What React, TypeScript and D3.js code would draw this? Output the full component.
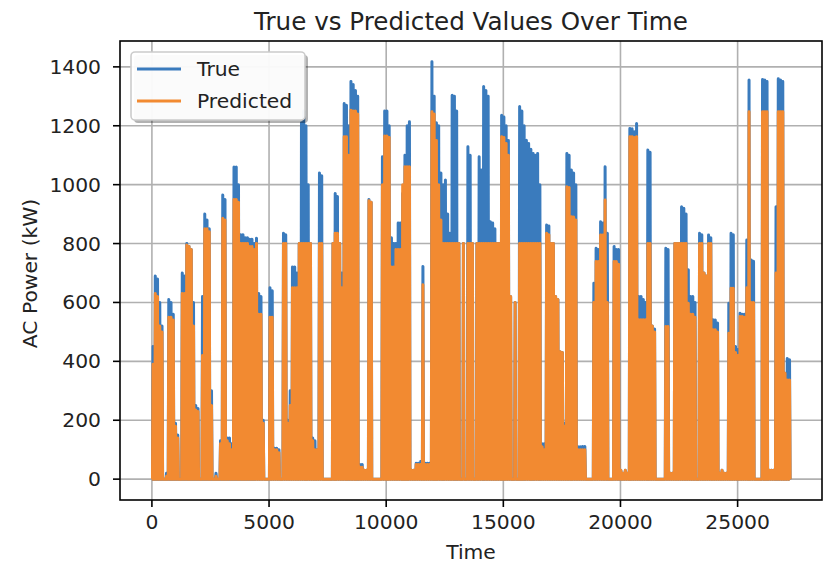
import React from "react";
import * as d3 from "d3";

// Daily peak AC power (kW), one entry per day (96 samples/day)
const truePeaks: number[] = [
  450, 690, 680, 600, 520, 0, 20, 610, 600, 560,
  190, 150, 0, 700, 690, 800, 790, 780, 600, 250,
  240, 0, 620, 900, 880, 850, 300, 0, 20, 0,
  130, 965, 950, 140, 140, 120, 1060, 1060, 1000, 830,
  830, 820, 820, 815, 815, 800, 818, 630, 620, 200,
  0, 0, 650, 640, 105, 105, 100, 0, 835, 830,
  200, 300, 720, 720, 700, 800, 1210, 1250, 1200, 1000,
  800, 140, 130, 100, 1040, 1030, 0, 0, 0, 0,
  800, 970, 960, 800, 700, 1276, 1270, 1200, 1350, 1340,
  1320, 1300, 50, 50, 30, 30, 950, 940, 0, 0,
  0, 0, 1095, 1250, 1250, 1200, 820, 800, 800, 870,
  870, 970, 1100, 1200, 1214, 30, 30, 54, 54, 60,
  722, 54, 54, 54, 1417, 1300, 1210, 1200, 1040, 1000,
  1016, 900, 835, 1304, 1300, 1250, 800, 0, 800, 0,
  1129, 1100, 800, 0, 800, 1095, 1050, 1333, 1320, 1300,
  874, 870, 850, 800, 800, 1236, 1230, 1200, 1150, 620,
  0, 600, 0, 1265, 1250, 1200, 1151, 1140, 1120, 1106,
  1100, 1106, 1000, 120, 120, 863, 860, 800, 800, 620,
  610, 433, 430, 190, 1106, 1100, 1050, 1040, 1000, 110,
  110, 111, 111, 0, 0, 0, 665, 784, 780, 874,
  870, 1061, 835, 0, 0, 790, 780, 780, 30, 20,
  30, 20, 1191, 1190, 1180, 1208, 620, 620, 610, 600,
  1118, 1110, 520, 510, 0, 0, 0, 0, 784, 780,
  20, 20, 800, 800, 800, 925, 920, 900, 711, 620,
  620, 600, 0, 835, 830, 700, 690, 829, 820, 541,
  540, 530, 20, 30, 20, 20, 597, 835, 830, 450,
  440, 563, 560, 560, 812, 1355, 744, 740, 0, 0,
  0, 1357, 1355, 1350, 30, 30, 30, 925, 1360, 1355,
  1350, 360, 410, 405,
];

const predPeaks: number[] = [
  390, 630, 620, 520, 500, 0, 10, 550, 550, 540,
  180, 140, 0, 630, 630, 795, 790, 780, 520, 235,
  230, 0, 420, 850, 850, 840, 250, 0, 10, 0,
  120, 886, 880, 130, 120, 100, 950, 950, 940, 800,
  800, 800, 800, 790, 790, 780, 800, 560, 560, 190,
  0, 0, 550, 550, 100, 100, 90, 0, 800, 800,
  190, 250, 650, 650, 650, 800, 800, 800, 800, 800,
  800, 130, 100, 100, 800, 800, 0, 0, 0, 0,
  800, 835, 835, 800, 650, 1163, 1163, 1100, 1253, 1250,
  1250, 1240, 40, 40, 30, 30, 945, 940, 0, 0,
  0, 0, 1000, 1165, 1165, 1160, 720, 720, 780, 780,
  780, 1000, 1061, 1061, 1061, 30, 30, 50, 50, 50,
  660, 50, 50, 50, 1248, 1240, 1150, 1000, 880, 800,
  800, 800, 800, 800, 800, 800, 800, 0, 800, 0,
  800, 800, 800, 0, 800, 800, 800, 800, 800, 800,
  800, 800, 800, 800, 800, 1163, 1160, 1140, 1100, 620,
  0, 600, 0, 800, 800, 800, 800, 800, 800, 800,
  800, 800, 800, 110, 100, 835, 830, 800, 800, 620,
  610, 433, 430, 180, 993, 990, 891, 890, 880, 100,
  100, 100, 100, 0, 0, 0, 600, 739, 739, 829,
  829, 948, 600, 0, 0, 739, 739, 730, 30, 20,
  30, 20, 1163, 1163, 1160, 1163, 541, 541, 541, 541,
  800, 800, 520, 500, 0, 0, 0, 0, 518, 518,
  20, 20, 800, 800, 800, 800, 800, 800, 597, 560,
  560, 550, 0, 800, 800, 700, 690, 800, 800, 507,
  507, 500, 20, 30, 20, 20, 495, 648, 648, 430,
  420, 552, 552, 550, 650, 1248, 600, 600, 0, 0,
  0, 1248, 1248, 1248, 30, 30, 30, 700, 1248, 1248,
  1248, 360, 337, 337,
];

const yTicks: number[] = [0, 200, 400, 600, 800, 1000, 1200, 1400];
const xTicks: number[] = [0, 5000, 10000, 15000, 20000, 25000];
const seriesNames: string[] = ["True", "Predicted"];

const STEPS_PER_DAY = 96;
const W = 829;
const H = 564;
const M = { left: 120, right: 822, top: 41, bottom: 500 };
const BLUE = "#3a7bbd";
const ORANGE = "#f28a31";
const FONT = "DejaVu Sans, Verdana, sans-serif";

type Pt = [number, number];

function toSeries(peaks: number[]): Pt[] {
  const pts: Pt[] = [];
  peaks.forEach((v, i) => {
    const t0 = i * STEPS_PER_DAY;
    pts.push([t0, 0]);
    pts.push([t0 + STEPS_PER_DAY / 4, 0]);
    pts.push([t0 + STEPS_PER_DAY / 2, v]);
    pts.push([t0 + (3 * STEPS_PER_DAY) / 4, 0]);
  });
  return pts;
}

export default function App() {
  const trueSeries = toSeries(truePeaks);
  const predSeries = toSeries(predPeaks);
  const all = trueSeries.concat(predSeries);
  const [xMin, xMax] = d3.extent(all, (d) => d[0]) as [number, number];
  const [yMin, yMax] = d3.extent(all, (d) => d[1]) as [number, number];
  const xPad = (xMax - xMin) * 0.05;
  const yPad = (yMax - yMin) * 0.05;

  const x = d3.scaleLinear().domain([xMin - xPad, xMax + xPad]).range([M.left, M.right]);
  const y = d3.scaleLinear().domain([yMin - yPad, yMax + yPad]).range([M.bottom, M.top]);

  const line = d3
    .line<Pt>()
    .x((d) => x(d[0]))
    .y((d) => y(d[1]));

  const cx = (M.left + M.right) / 2;
  const cy = (M.top + M.bottom) / 2;
  const colors = [BLUE, ORANGE];

  return (
    <svg
      width={W}
      height={H}
      style={{ position: "absolute", left: 0, top: 0, background: "#fff" }}
      fontFamily={FONT}
    >
      <rect x={0} y={0} width={W} height={H} fill="#fff" />
      <defs>
        <clipPath id="plot-clip">
          <rect x={M.left} y={M.top} width={M.right - M.left} height={M.bottom - M.top} />
        </clipPath>
      </defs>
      {/* grid */}
      <g stroke="#b0b0b0" strokeWidth={1.6}>
        {xTicks.map((t) => (
          <line key={"gx" + t} x1={x(t)} x2={x(t)} y1={M.top} y2={M.bottom} />
        ))}
        {yTicks.map((t) => (
          <line key={"gy" + t} x1={M.left} x2={M.right} y1={y(t)} y2={y(t)} />
        ))}
      </g>
      {/* series */}
      <g clipPath="url(#plot-clip)" fill="none" strokeWidth={3} strokeLinejoin="round">
        <path d={line(trueSeries) || ""} stroke={BLUE} />
        <path d={line(predSeries) || ""} stroke={ORANGE} />
      </g>
      {/* spines */}
      <rect
        x={M.left}
        y={M.top}
        width={M.right - M.left}
        height={M.bottom - M.top}
        fill="none"
        stroke="#000"
        strokeWidth={1.6}
      />
      {/* x ticks */}
      <g fontSize={20.3} fill="#222" textAnchor="middle">
        {xTicks.map((t) => (
          <g key={"xt" + t}>
            <line x1={x(t)} x2={x(t)} y1={M.bottom} y2={M.bottom + 7} stroke="#000" strokeWidth={1.6} />
            <text x={x(t)} y={M.bottom + 29}>
              {t}
            </text>
          </g>
        ))}
      </g>
      {/* y ticks */}
      <g fontSize={20.3} fill="#222" textAnchor="end">
        {yTicks.map((t) => (
          <g key={"yt" + t}>
            <line x1={M.left - 7} x2={M.left} y1={y(t)} y2={y(t)} stroke="#000" strokeWidth={1.6} />
            <text x={M.left - 19} y={y(t) + 7}>
              {t}
            </text>
          </g>
        ))}
      </g>
      {/* labels */}
      <text x={cx} y={559} fontSize={20.3} fill="#222" textAnchor="middle">
        Time
      </text>
      <text
        transform={`translate(37, ${cy + 3}) rotate(-90)`}
        fontSize={20.3}
        fill="#222"
        textAnchor="middle"
      >
        AC Power (kW)
      </text>
      <text x={cx} y={29.5} fontSize={24.6} fill="#222" textAnchor="middle">
        True vs Predicted Values Over Time
      </text>
      {/* legend */}
      <g>
        <rect x={134} y={55} width={174} height={68} rx={4} fill="#000" opacity={0.3} />
        <rect x={131} y={52} width={174} height={68} rx={4} fill="#fff" fillOpacity={0.95} stroke="#cccccc" strokeWidth={1.6} />
        {seriesNames.map((name, i) => (
          <g key={name}>
            <line x1={137} x2={181} y1={69 + i * 32} y2={69 + i * 32} stroke={colors[i]} strokeWidth={3} />
            <text x={197} y={76 + i * 32} fontSize={20.3} fill="#222">
              {name}
            </text>
          </g>
        ))}
      </g>
    </svg>
  );
}
